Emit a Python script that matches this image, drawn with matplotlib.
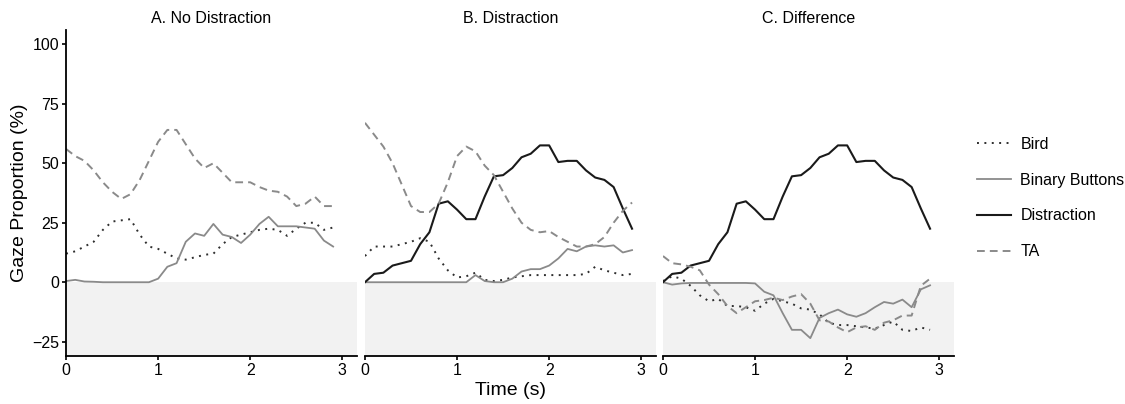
"""
Gaze proportion over time, three panels (no distraction / distraction / difference).
"""

import matplotlib
matplotlib.use("Agg")
import matplotlib.pyplot as plt
import numpy as np

plt.rcParams['font.family'] = ['Liberation Sans', 'DejaVu Sans']

# time bins (s)
time = [round(i * 0.1, 1) for i in range(30)]

# A. No Distraction
a_bird = [12, 13, 15, 17, 22, 25.5, 26, 26.5, 20, 15, 14, 12, 10, 9.5, 10.5,
          11.5, 12, 16, 19, 20, 21, 22, 22.5, 22, 19.5, 22.5, 25, 25, 22, 23]
a_buttons = [0.5, 1, 0.3, 0.2, 0, 0, 0, 0, 0, 0, 1.5, 6.5, 8, 17, 20.5,
             19.5, 24.5, 20, 19, 16.5, 20, 24.5, 27.5, 23.5, 23.5, 23.5, 23, 22.5, 17.5, 15]
a_ta = [56, 53, 51, 47, 42, 38, 35, 37, 43, 51, 59, 64, 64, 58, 52,
        48, 50, 46, 42, 42, 42, 40, 38.5, 38, 36, 32, 33, 36, 32, 32]

# B. Distraction
b_bird = [11, 15, 15, 15, 16, 17, 18.5, 17, 10, 5, 2, 2.5, 4, 1, 0.5,
          1, 2, 2.5, 3, 3, 3, 3, 3, 3, 3.5, 6.5, 5, 4, 3, 3.5]
b_buttons = [0, 0, 0, 0, 0, 0, 0, 0, 0, 0, 0, 0, 3, 0.5, 0,
             0, 1.5, 4.5, 5.5, 5.5, 7, 10, 14, 13, 15, 15.5, 15, 15.5, 12.5, 13.5]
b_distraction = [0, 3.5, 4, 7, 8, 9, 16, 21, 33, 34, 30.5, 26.5, 26.5, 36, 44.5,
                 45, 48, 52.5, 54, 57.5, 57.5, 50.5, 51, 51, 47, 44, 43, 40, 31, 22.5]
b_ta = [67, 62, 57, 50, 41, 32, 29.5, 29.5, 33, 42, 53, 57, 55, 49, 45,
        38, 31, 25, 22, 21, 21.5, 19, 17, 15, 15, 16, 19, 25, 30, 33.5]

# C. Difference
c_bird = [0.5, 2.5, 1.5, -1.5, -5.5, -8, -7, -10, -10, -10.5, -12, -9, -7, -8, -9,
          -11, -11.5, -13.5, -17, -18, -18, -18.5, -19, -19.5, -18, -16.5, -20, -20.5, -19, -20]
c_buttons = [0, -1, -0.5, -0.3, -0.3, -0.3, -0.3, -0.3, -0.3, -0.3, -0.5, -4, -5.5, -13, -20,
             -20, -23.5, -15, -13, -11.5, -13.5, -14.5, -13, -10.5, -8.3, -9, -7.3, -10.5, -3, -1.3]
c_distraction = [0, 3.5, 4, 7, 8, 9, 16, 21, 33, 34, 30.5, 26.5, 26.5, 36, 44.5,
                 45, 48, 52.5, 54, 57.5, 57.5, 50.5, 51, 51, 47, 44, 43, 40, 31, 22.5]
c_ta = [11, 8, 7.5, 6.5, 5, -1, -5, -10, -13, -10.5, -8, -7.5, -6.5, -7.5, -6,
        -5, -9, -16, -16.5, -19, -21, -19, -18.5, -20, -17, -16, -14, -14, -1.5, 1.5]

titles = ["A. No Distraction", "B. Distraction", "C. Difference"]
yticks = [-25, 0, 25, 50, 75, 100]
xticks = [0, 1, 2, 3]

styles = {
    "Bird": dict(color="#2e2e2e", lw=1.4, dashes=(1, 2.8)),
    "Binary Buttons": dict(color="#8a8a8a", lw=1.3),
    "Distraction": dict(color="#1a1a1a", lw=1.5),
    "TA": dict(color="#8a8a8a", lw=1.4, dashes=(4, 2.6)),
}

panels = [
    {"Bird": a_bird, "Binary Buttons": a_buttons, "TA": a_ta},
    {"Bird": b_bird, "Binary Buttons": b_buttons, "Distraction": b_distraction, "TA": b_ta},
    {"Bird": c_bird, "Binary Buttons": c_buttons, "Distraction": c_distraction, "TA": c_ta},
]

fig = plt.figure(figsize=(11.25, 4.04), dpi=100)
lefts = [0.0587, 0.3244, 0.5893]
axes = [fig.add_axes([l, 0.1188, 0.2587, 0.807]) for l in lefts]

handles = {}
for i, (ax, data) in enumerate(zip(axes, panels)):
    ax.axhspan(-31, 0, color="#f2f2f2", lw=0, zorder=0)
    for name in ["Bird", "Binary Buttons", "Distraction", "TA"]:
        if name in data:
            line, = ax.plot(time, data[name], label=name, **styles[name])
            handles[name] = line
    ax.set_xlim(0, 3.16)
    ax.set_ylim(-31, 106)
    ax.set_xticks(xticks)
    ax.set_title(titles[i], fontsize=11.5, pad=5)
    for s in ["top", "right"]:
        ax.spines[s].set_visible(False)
    ax.spines["bottom"].set_linewidth(1.3)
    ax.tick_params(axis="both", length=3, width=1.2, labelsize=11.5, pad=2)
    if i == 0:
        ax.set_yticks(yticks)
        ax.spines["left"].set_linewidth(1.3)
        ax.set_ylabel("Gaze Proportion (%)", fontsize=14, labelpad=3)
    else:
        ax.spines["left"].set_visible(False)
        ax.set_yticks([])
    if i == 1:
        ax.set_xlabel("Time (s)", fontsize=14, labelpad=3)

names = ["Bird", "Binary Buttons", "Distraction", "TA"]
fig.legend([handles[n] for n in names], names, loc="center left",
           bbox_to_anchor=(0.856, 0.51), frameon=False, fontsize=11.5,
           handlelength=2.1, handletextpad=0.6, labelspacing=1.3)

fig.savefig("out.png", dpi=100)
